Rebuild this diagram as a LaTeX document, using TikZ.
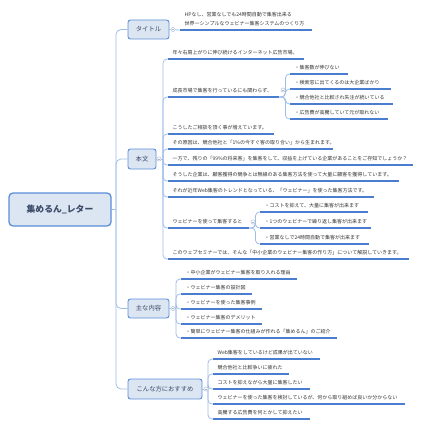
\documentclass[tikz,border=0pt]{standalone}
\usepackage{fontspec}
\setmainfont{Noto Sans CJK JP}
\definecolor{connc}{HTML}{9EBEE8}
\definecolor{ulc}{HTML}{4A7DD0}
\definecolor{nodeb}{HTML}{5A8ED8}
\definecolor{nodef}{HTML}{DCE5F2}
\definecolor{txtc}{HTML}{333333}
\definecolor{topc}{HTML}{3A4A68}
\definecolor{foldc}{HTML}{A8B8D0}
\tikzset{
 conn/.style={draw=connc, line width=0.8pt, rounded corners=4pt},
 uline/.style={draw=ulc, line width=1.1pt},
 leaf/.style={anchor=south west, inner xsep=4.5pt, inner ysep=4.3pt, align=left, text=txtc,
   font=\fontsize{5}{8.2}\selectfont,
   append after command={(\tikzlastnode.south west) edge[uline] (\tikzlastnode.south east)}},
 topic/.style={draw=nodeb, fill=nodef, line width=0.9pt, rounded corners=2.5pt, text=topc,
   font=\fontsize{6.3}{7}\selectfont, inner sep=0pt},
 fold/.style={circle, draw=foldc, fill=white, line width=0.4pt, minimum size=4.2pt, inner sep=0pt,
   path picture={\draw[foldc, line width=0.35pt] ([xshift=-1.1pt]path picture bounding box.center) -- ([xshift=1.1pt]path picture bounding box.center);}}
}
\begin{document}
\begin{tikzpicture}[x=1pt,y=-1pt]
\useasboundingbox (0,0) rectangle (423,428);

% main topics
\node[topic, minimum width=102pt, minimum height=33pt, line width=1.3pt, rounded corners=4pt,
  font=\fontsize{8.8}{10}\selectfont\bfseries] (root) at (60,209.5) {集めるん\_レター};
\node[topic, minimum width=41pt, minimum height=19pt] (title) at (148.5,29.5) {タイトル};
\node[topic, minimum width=28pt, minimum height=20pt] (honbun) at (142,159) {本文};
\node[topic, minimum width=41pt, minimum height=19pt] (naiyou) at (148.5,308.5) {主な内容};
\node[topic, minimum width=74pt, minimum height=20pt] (osusume) at (165,389) {こんな方におすすめ};

% title leaf
\node[leaf, text width=123pt] (tl) at (180,30) {HPなし、営業なしでも24時間自動で集客出来る\\世界一シンプルなウェビナー集客システムのつくり方};

% honbun leaves
\node[leaf, text width=127pt] (c1) at (168,59) {年々右肩上がりに伸び続けるインターネット広告市場。};
\node[leaf, text width=102pt] (c2) at (168,97) {成長市場で集客を行っているにも関わらず、};
\node[leaf, text width=49pt] (c2a) at (290,74) {・集客数が伸びない};
\node[leaf, text width=92pt] (c2b) at (290,89) {・検索窓に出てくるのは大企業ばかり};
\node[leaf, text width=94pt] (c2c) at (290,104) {・競合他社と比較され失注が続いている};
\node[leaf, text width=89pt] (c2d) at (290,119) {・広告費が高騰していて元が取れない};
\node[leaf, text width=97pt] (c3) at (168,134) {こうしたご相談を頂く事が増えています。};
\node[leaf, text width=156pt] (c4) at (168,149) {その原因は、競合他社と「1\%の今すぐ客の取り合い」から生まれます。};
\node[leaf, text width=236pt] (c5) at (168,165) {一方で、残りの「99\%の将来客」を集客をして、収益を上げている企業があることをご存知でしょうか？};
\node[leaf, text width=222pt] (c6) at (168,181) {そうした企業は、顧客獲得の競争とは無縁のある集客方法を使って大量に顧客を獲得しています。};
\node[leaf, text width=197pt] (c7) at (168,197) {それが近年Web集客のトレンドとなっている、「ウェビナー」を使った集客方法です。};
\node[leaf, text width=72pt] (c8) at (168,228) {ウェビナーを使って集客すると};
\node[leaf, text width=99pt] (c8a) at (260,212) {・コストを抑えて、大量に集客が出来ます};
\node[leaf, text width=102pt] (c8b) at (260,228) {・1つのウェビナーで繰り返し集客が出来ます};
\node[leaf, text width=100pt] (c8c) at (260,244) {・営業なしで24時間自動で集客が出来ます};
\node[leaf, text width=232pt] (c9) at (168,259) {このウェブセミナーでは、そんな「中小企業のウェビナー集客の作り方」について解説していきます。};

% naiyou leaves
\node[leaf, text width=107pt] (n1) at (181,279) {・中小企業がウェビナー集客を取り入れる理由};
\node[leaf, text width=62pt] (n2) at (181,294) {・ウェビナー集客の設計図};
\node[leaf, text width=72pt] (n3) at (181,309) {・ウェビナーを使った集客事例};
\node[leaf, text width=72pt] (n4) at (181,324) {・ウェビナー集客のデメリット};
\node[leaf, text width=147pt] (n5) at (181,338) {・簡単にウェビナー集客の仕組みが作れる「集めるん」のご紹介};

% osusume leaves
\node[leaf, text width=98pt] (o1) at (213,359) {Web集客をしているけど成果が出ていない};
\node[leaf, text width=67pt] (o2) at (213,374) {競合他社と比較争いに疲れた};
\node[leaf, text width=88pt] (o3) at (213,389) {コストを抑えながら大量に集客したい};
\node[leaf, text width=183pt] (o4) at (213,404) {ウェビナーを使った集客を検討しているが、何から取り組めば良いか分からない};
\node[leaf, text width=88pt] (o5) at (213,419) {高騰する広告費を何とかして抑えたい};

% branch points
\coordinate (t0) at (116,209.5);
\coordinate (hb) at (163,159);
\coordinate (nb) at (176,308.5);
\coordinate (ob) at (208,389);

% connectors
\draw[conn] (root.east) -- (t0);
\foreach \t in {title,honbun,naiyou,osusume} \draw[conn, rounded corners=5pt] (t0) |- (\t.west);
\draw[conn] (title.east) -- (tl.south west);
\draw[conn] (honbun.east) -- (hb);
\foreach \c in {c1,c2,c3,c4,c5,c6,c7,c8,c9} \draw[conn] (hb) |- (\c.south west);
\foreach \c in {c2a,c2b,c2c,c2d} \draw[conn] (c2.south east) -- ++(6,0) |- (\c.south west);
\foreach \c in {c8a,c8b,c8c} \draw[conn] (c8.south east) -- ++(6,0) |- (\c.south west);
\draw[conn] (naiyou.east) -- (nb);
\foreach \c in {n1,n2,n3,n4,n5} \draw[conn] (nb) |- (\c.south west);
\draw[conn] (osusume.east) -- (ob);
\foreach \c in {o1,o2,o3,o4,o5} \draw[conn] (ob) |- (\c.south west);

% fold markers
\node[fold] (f1) at (173,29.5) {};
\node[fold] (f2) at (159,159) {};
\node[fold] (f3) at (173,308.5) {};
\node[fold] (f4) at (206,389) {};
\node[fold] (f5) at (283,90) {};
\node[fold] (f6) at (253,222) {};
\end{tikzpicture}
\end{document}
